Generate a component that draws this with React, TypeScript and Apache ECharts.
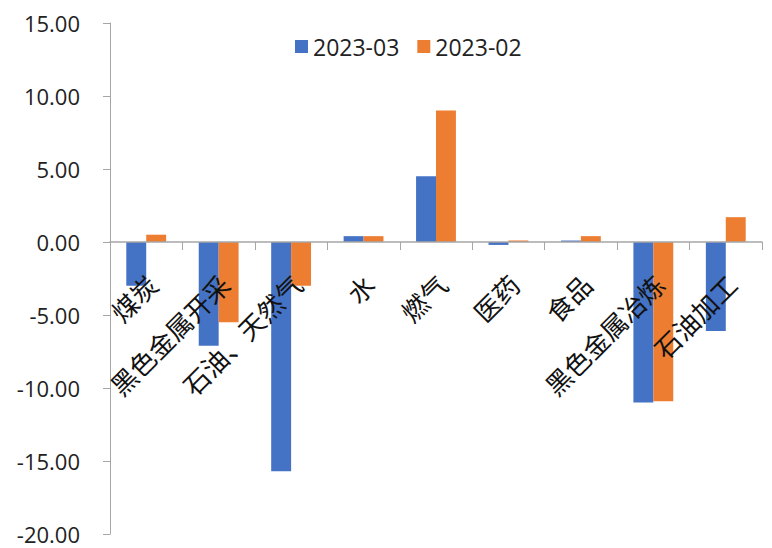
import React, { useEffect, useRef } from "react";
import * as echarts from "echarts";

const categories = ["煤炭", "黑色金属开采", "石油、天然气", "水", "燃气", "医药", "食品", "黑色金属冶炼", "石油加工"];
const seriesNames = ["2023-03", "2023-02"];
const values202303 = [-3.0, -7.1, -15.7, 0.4, 4.5, -0.2, 0.1, -11.0, -6.1];
const values202302 = [0.5, -5.5, -3.0, 0.4, 9.0, 0.1, 0.4, -10.9, 1.7];
const colors = ["#4472C4", "#ED7D31"];
const yMin = -20;
const yMax = 15;

export default function App() {
  const ref = useRef<HTMLDivElement>(null);
  useEffect(() => {
    if (!ref.current) return;
    const chart = echarts.init(ref.current, null, { renderer: "svg" });
    const gridTop = 15;
    const gridBottom = 14;
    const height = 540;
    const plotH = height - gridTop - gridBottom;
    const zeroFromBottom = (plotH * (0 - yMin)) / (yMax - yMin);
    chart.setOption({
      animation: false,
      textStyle: { fontFamily: "'Noto Sans', 'Noto Sans CJK SC', sans-serif" },
      legend: {
        data: seriesNames,
        left: 282,
        top: 22,
        itemWidth: 13,
        itemHeight: 13,
        itemGap: 18,
        icon: "rect",
        textStyle: { fontSize: 23, color: "#222", fontFamily: "'Open Sans', 'Noto Sans', sans-serif" },
      },
      grid: { left: 102, right: 2, top: gridTop, bottom: gridBottom, containLabel: false, outerBoundsMode: "none" },
      xAxis: {
        type: "category",
        data: categories,
        position: "bottom",
        offset: -zeroFromBottom,
        z: 10,
        axisLine: { onZero: false, lineStyle: { color: "#a6a6a6", width: 1.5 } },
        axisTick: { show: true, alignWithLabel: false, length: 8, lineStyle: { color: "#a6a6a6" } },
        axisLabel: {
          rotate: 45,
          margin: 43,
          fontSize: 26,
          color: "#111",
          interval: 0,
          padding: [0, -8, 0, 0],
          fontFamily: "'Noto Sans CJK SC', sans-serif",
        },
      },
      yAxis: {
        type: "value",
        min: yMin,
        max: yMax,
        interval: 5,
        splitLine: { show: false },
        axisLine: { show: true, lineStyle: { color: "#a6a6a6", width: 1 } },
        axisTick: { show: true, length: 7, lineStyle: { color: "#a6a6a6" } },
        axisLabel: {
          fontSize: 22,
          lineHeight: 18,
          color: "#222",
          margin: 30,
          fontFamily: "'Open Sans', 'Noto Sans', sans-serif",
          formatter: (v: number) => v.toFixed(2),
        },
      },
      series: [
        {
          name: seriesNames[0],
          type: "bar",
          data: values202303,
          barGap: "0%",
          barCategoryGap: "45%",
          itemStyle: { color: colors[0] },
        },
        {
          name: seriesNames[1],
          type: "bar",
          data: values202302,
          itemStyle: { color: colors[1] },
        },
      ],
    });
    return () => chart.dispose();
  }, []);
  return <div ref={ref} style={{ width: 756, height: 540 }} />;
}
